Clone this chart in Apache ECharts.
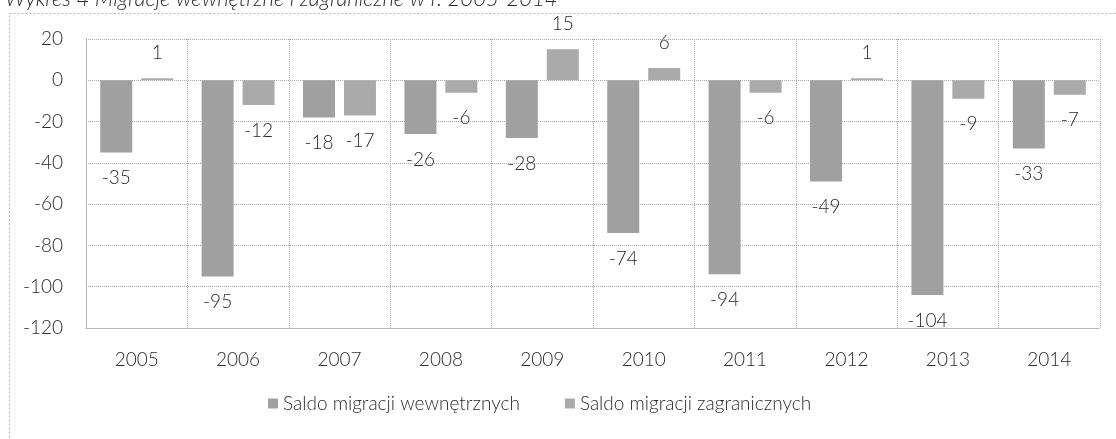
<!DOCTYPE html>
<html>
<head>
<meta charset="utf-8">
<script src="https://cdn.jsdelivr.net/npm/echarts@6/dist/echarts.min.js"></script>
<style>
  html, body { margin: 0; padding: 0; background: #fff; }
  #chart { width: 1116px; height: 439px; }
</style>
</head>
<body>
<div id="chart"></div>
<script>
const years = ['2005', '2006', '2007', '2008', '2009', '2010', '2011', '2012', '2013', '2014']
const wewnetrzne = [-35, -95, -18, -26, -28, -74, -94, -49, -104, -33]
const zagraniczne = [1, -12, -17, -6, 15, 6, -6, 1, -9, -7]
const seriesNames = ['Saldo migracji wewnętrznych', 'Saldo migracji zagranicznych']

const font = 'Lato, "Open Sans", sans-serif'
const textColor = '#2a2a2a'
const gridColor = '#a8a8a8'

// label above positive bars, below negative ones
const withLabels = arr => arr.map(v => ({
  value: v,
  label: { position: v >= 0 ? 'top' : 'bottom' }
}))

const chart = echarts.init(document.getElementById('chart'))

const barLabel = {
  show: true,
  distance: 16,
  color: textColor,
  fontFamily: font,
  fontSize: 19,
  fontWeight: 300
}

chart.setOption({
  backgroundColor: '#fff',
  animation: false,
  title: {
    text: 'Wykres 4 Migracje wewnętrzne i zagraniczne w r. 2005-2014',
    left: 0,
    top: -17,
    textStyle: {
      fontFamily: font,
      fontStyle: 'italic',
      fontWeight: 300,
      fontSize: 22,
      color: textColor
    }
  },
  graphic: [{
    type: 'rect',
    left: 7,
    top: 11,
    shape: { width: 1200, height: 500 },
    style: { fill: 'none', stroke: '#b0b0b0', lineWidth: 1, lineDash: [2, 2] },
    silent: true
  }],
  legend: {
    data: seriesNames,
    left: 263,
    top: 389,
    icon: 'rect',
    itemWidth: 10,
    itemHeight: 10,
    itemGap: 45,
    textStyle: {
      fontFamily: font,
      fontSize: 19,
      fontWeight: 300,
      color: textColor
    }
  },
  grid: {
    left: 86,
    right: 16,
    top: 39,
    bottom: 111
  },
  xAxis: {
    type: 'category',
    data: years,
    axisLine: {
      onZero: false,
      lineStyle: { color: gridColor, type: 'dotted' }
    },
    axisTick: { show: false },
    axisLabel: {
      margin: 22,
      color: textColor,
      fontFamily: font,
      fontSize: 19,
      fontWeight: 300
    },
    splitLine: {
      show: true,
      lineStyle: { color: gridColor, type: 'dotted' }
    }
  },
  yAxis: {
    type: 'value',
    min: -120,
    max: 20,
    interval: 20,
    axisLine: {
      show: true,
      lineStyle: { color: gridColor, type: 'dotted' }
    },
    axisTick: { show: false },
    axisLabel: {
      margin: 23,
      color: textColor,
      fontFamily: font,
      fontSize: 19,
      fontWeight: 300
    },
    splitLine: {
      lineStyle: { color: gridColor, type: 'dotted' }
    }
  },
  series: [
    {
      name: seriesNames[0],
      type: 'bar',
      barWidth: 32,
      barGap: '28%',
      data: withLabels(wewnetrzne),
      itemStyle: { color: '#a0a0a0' },
      label: barLabel
    },
    {
      name: seriesNames[1],
      type: 'bar',
      barWidth: 32,
      data: withLabels(zagraniczne),
      itemStyle: { color: '#aaaaaa' },
      label: barLabel
    }
  ]
})

window.addEventListener('resize', () => {
  chart.resize()
})
</script>
</body>
</html>
